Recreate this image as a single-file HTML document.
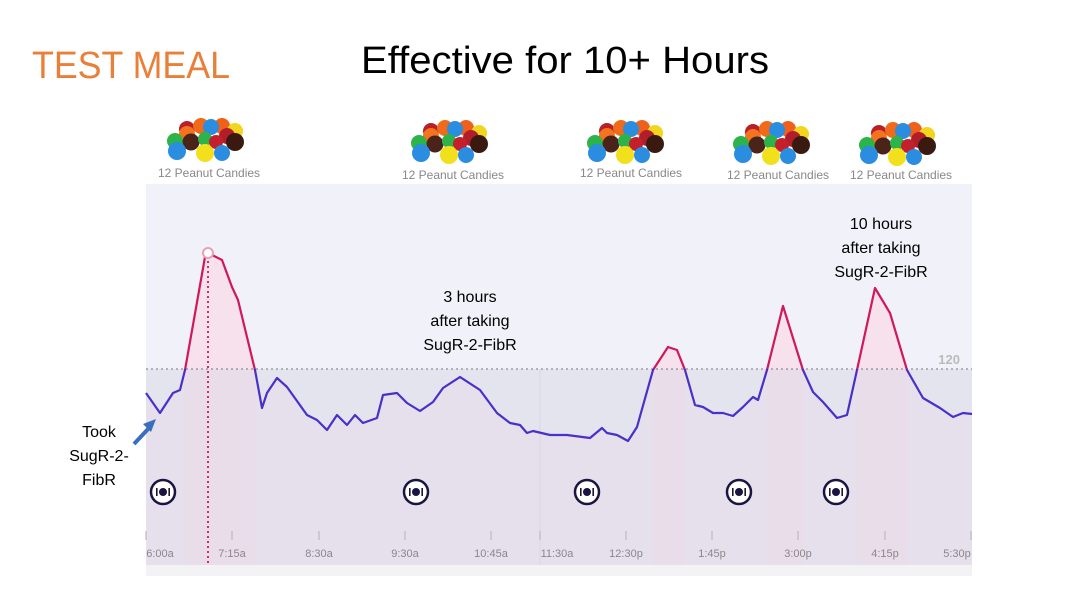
<!DOCTYPE html>
<html><head><meta charset="utf-8"><style>
html,body{margin:0;padding:0;background:#fff;}
svg{display:block;font-family:"Liberation Sans",sans-serif;}
</style></head><body>
<svg width="1080" height="594" viewBox="0 0 1080 594" xmlns="http://www.w3.org/2000/svg">
<defs>
<g id="candy">
<circle cx="-18" cy="-11" r="8" fill="#b8202a"/>
<circle cx="-4" cy="-14" r="8" fill="#f06a1a"/>
<circle cx="17" cy="-14" r="8" fill="#f0601a"/>
<circle cx="30" cy="-9" r="8" fill="#f2d51c"/>
<circle cx="-18" cy="-6" r="8" fill="#f5731f"/>
<circle cx="6" cy="-13" r="8" fill="#2a8de0"/>
<circle cx="-30" cy="1" r="8" fill="#2cb34a"/>
<circle cx="-14" cy="2" r="8.5" fill="#4a2418"/>
<circle cx="0" cy="-1" r="7" fill="#2cb34a"/>
<circle cx="22" cy="-4" r="8" fill="#b01e2a"/>
<circle cx="11" cy="2" r="7" fill="#c4202c"/>
<circle cx="30" cy="2" r="9" fill="#3a1a10"/>
<circle cx="-28" cy="11" r="9" fill="#2a8de0"/>
<circle cx="0" cy="13" r="9" fill="#f2e01c"/>
<circle cx="17" cy="13" r="8" fill="#2a8de0"/>
</g>
<clipPath id="above"><rect x="0" y="0" width="1080" height="369"/></clipPath>
<clipPath id="below"><rect x="0" y="369" width="1080" height="300"/></clipPath>
<path id="cp" d="M146,393 L160,413 L173,393 L180,390 L185,370 L205,257 L208,253 L222,260 L232,287 L238,300 L255,370 L262,408 L267,393 L277,378 L287,387 L307,415 L317,420 L327,430 L337,415 L347,425 L355,415 L363,423 L377,418 L383,395 L397,393 L407,403 L420,411 L433,402 L443,388 L460,377 L480,390 L497,413 L510,423 L520,425 L527,433 L533,431 L550,435 L567,435 L590,438 L602,428 L607,433 L617,435 L628,441 L637,427 L653,370 L668,347 L677,350 L685,370 L695,405 L703,407 L713,413 L723,413 L733,416 L743,407 L753,397 L758,400 L767,370 L783,306 L803,370 L813,392 L823,402 L837,418 L847,415 L857,370 L875,288 L890,313 L907,370 L923,398 L940,408 L953,417 L963,413 L972,414"/>
<path id="area" d="M146,393 L160,413 L173,393 L180,390 L185,370 L205,257 L208,253 L222,260 L232,287 L238,300 L255,370 L262,408 L267,393 L277,378 L287,387 L307,415 L317,420 L327,430 L337,415 L347,425 L355,415 L363,423 L377,418 L383,395 L397,393 L407,403 L420,411 L433,402 L443,388 L460,377 L480,390 L497,413 L510,423 L520,425 L527,433 L533,431 L550,435 L567,435 L590,438 L602,428 L607,433 L617,435 L628,441 L637,427 L653,370 L668,347 L677,350 L685,370 L695,405 L703,407 L713,413 L723,413 L733,416 L743,407 L753,397 L758,400 L767,370 L783,306 L803,370 L813,392 L823,402 L837,418 L847,415 L857,370 L875,288 L890,313 L907,370 L923,398 L940,408 L953,417 L963,413 L972,414 L972,565 L146,565 Z"/>
<g id="meal"><circle r="12" fill="#fff" stroke="#1a1440" stroke-width="2.5"/><circle r="4" fill="#1a1440"/><rect x="-7" y="-4" width="1.6" height="8" fill="#1a1440"/><rect x="5.4" y="-4" width="1.6" height="8" fill="#1a1440"/></g>
</defs>
<text x="32" y="78" font-size="38" fill="#e8803a" textLength="198" lengthAdjust="spacingAndGlyphs">TEST MEAL</text>
<text x="361" y="73" font-size="38" fill="#000" textLength="408" lengthAdjust="spacingAndGlyphs">Effective for 10+ Hours</text>

<use href="#candy" x="205" y="140"/>
<use href="#candy" x="449" y="142"/>
<use href="#candy" x="625" y="142"/>
<use href="#candy" x="771" y="143"/>
<use href="#candy" x="897" y="144"/>
<g font-size="12" fill="#888" text-anchor="middle">
<text x="209" y="177">12 Peanut Candies</text>
<text x="453" y="179">12 Peanut Candies</text>
<text x="631" y="177">12 Peanut Candies</text>
<text x="778" y="179">12 Peanut Candies</text>
<text x="901" y="179">12 Peanut Candies</text>
</g>

<rect x="146" y="184" width="826" height="392" fill="#f1f1f9"/>
<rect x="146" y="369" width="826" height="196" fill="#e4e4ef"/>
<rect x="146" y="565" width="826" height="11" fill="#f3f3f6"/>
<use href="#area" fill="#f7dde8" opacity="0.8" clip-path="url(#above)"/>
<use href="#area" fill="#e8dcec" opacity="0.5" clip-path="url(#below)"/>
<g fill="#f0d8e6" opacity="0.35">
<rect x="185" y="369" width="70" height="196"/>
<rect x="653" y="369" width="32" height="196"/>
<rect x="767" y="369" width="36" height="196"/>
<rect x="857" y="369" width="50" height="196"/>
</g>
<line x1="540" y1="369" x2="540" y2="565" stroke="#d8d8e4" stroke-width="1"/>
<line x1="146" y1="369" x2="972" y2="369" stroke="#777" stroke-width="1" stroke-dasharray="2,3"/>
<text x="960" y="364" font-size="13" fill="#bbb" text-anchor="end" font-weight="bold">120</text>

<use href="#cp" fill="none" stroke="#4a2fc8" stroke-width="2.2" stroke-linejoin="round" clip-path="url(#below)"/>
<use href="#cp" fill="none" stroke="#d0185a" stroke-width="2.2" stroke-linejoin="round" clip-path="url(#above)"/>
<line x1="208" y1="256" x2="208" y2="565" stroke="#d0185a" stroke-width="1.8" stroke-dasharray="2,3"/>
<circle cx="208" cy="253" r="5" fill="#fff" stroke="#e8a0b8" stroke-width="2"/>

<use href="#meal" x="163" y="492"/>
<use href="#meal" x="416" y="492"/>
<use href="#meal" x="587" y="492"/>
<use href="#meal" x="739" y="492"/>
<use href="#meal" x="836" y="492"/>

<g stroke="#bbb" stroke-width="1.2">
<line x1="146" y1="531" x2="146" y2="540"/><line x1="232" y1="531" x2="232" y2="540"/><line x1="319" y1="531" x2="319" y2="540"/><line x1="405" y1="531" x2="405" y2="540"/><line x1="491" y1="531" x2="491" y2="540"/><line x1="540" y1="531" x2="540" y2="540"/><line x1="626" y1="531" x2="626" y2="540"/><line x1="712" y1="531" x2="712" y2="540"/><line x1="798" y1="531" x2="798" y2="540"/><line x1="885" y1="531" x2="885" y2="540"/><line x1="971" y1="531" x2="971" y2="540"/>
</g>
<g font-size="11" fill="#888" text-anchor="middle">
<text x="160" y="557">6:00a</text><text x="232" y="557">7:15a</text><text x="319" y="557">8:30a</text><text x="405" y="557">9:30a</text><text x="491" y="557">10:45a</text><text x="557" y="557">11:30a</text><text x="626" y="557">12:30p</text><text x="712" y="557">1:45p</text><text x="798" y="557">3:00p</text><text x="885" y="557">4:15p</text><text x="957" y="557">5:30p</text>
</g>

<g font-size="16" fill="#000" text-anchor="middle">
<text x="470" y="302">3 hours</text><text x="470" y="326">after taking</text><text x="470" y="350">SugR-2-FibR</text>
<text x="881" y="229">10 hours</text><text x="881" y="253">after taking</text><text x="881" y="277">SugR-2-FibR</text>
<text x="99" y="437">Took</text><text x="99" y="461">SugR-2-</text><text x="99" y="485">FibR</text>
</g>
<line x1="134" y1="444" x2="149" y2="428" stroke="#3a6fc0" stroke-width="4"/>
<polygon points="156,419 143,424 151,432" fill="#3a6fc0"/>
</svg>
</body></html>
